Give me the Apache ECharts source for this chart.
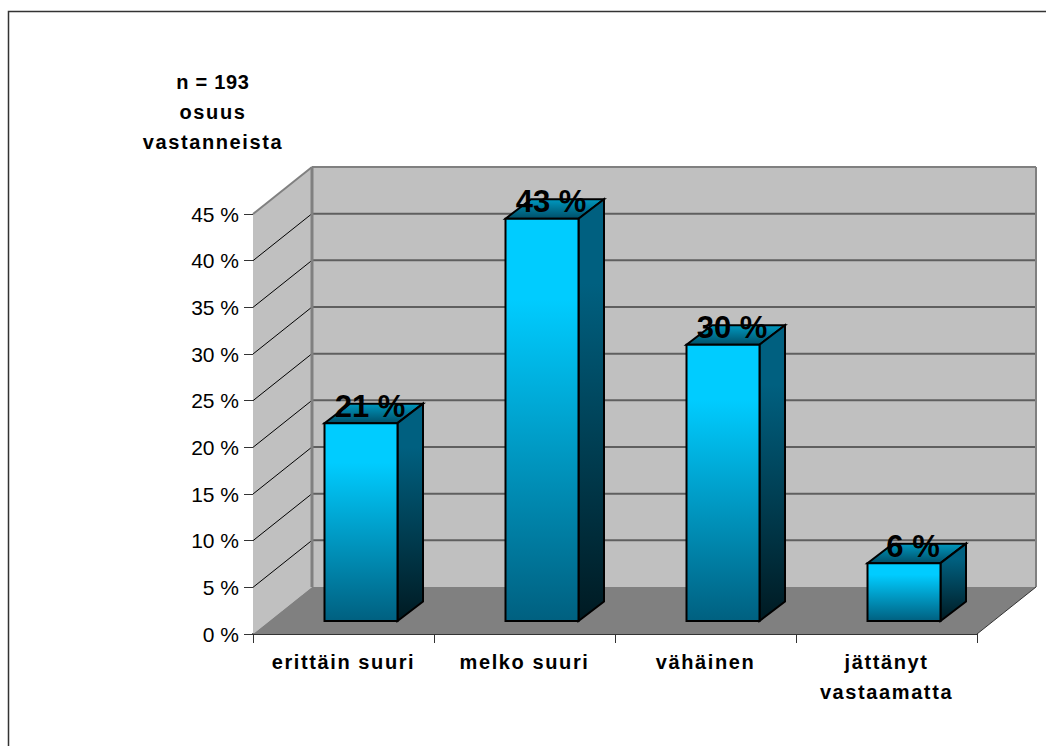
<!DOCTYPE html>
<html><head><meta charset="utf-8">
<style>
html,body{margin:0;padding:0;background:#fff}
#c{width:1046px;height:746px}
#c text.sp{letter-spacing:1.6px}
#c text.spn{letter-spacing:0.7px}
</style>
<script src="https://cdn.jsdelivr.net/npm/echarts@6/dist/echarts.min.js"></script>
</head><body><div id="c"></div>
<script>
const categories = ['erittäin suuri','melko suuri','vähäinen','jättänyt\nvastaamatta'];
const values = [21.2, 43.1, 29.6, 6.2];
const valueLabels = ['21 %','43 %','30 %','6 %'];
const yTicks = [0,5,10,15,20,25,30,35,40,45];
const headerLines = ['n = 193','osuus','vastanneista'];

const DX = 59, DY = -47;      // wall depth
const BDX = 25.5, BDY = -19.5;    // bar depth
const ZX = 17.5, ZY = -13;    // bar offset from front edge
const BW = 73;

const font = 'Liberation Sans, Arial, sans-serif';
const lg = (a,b,c,d,stops)=>new echarts.graphic.LinearGradient(a,b,c,d,stops.map(s=>({offset:s[0],color:s[1]})));

function wallItem(params, api){
  const cs = params.coordSys;
  const L = cs.x, R = cs.x + cs.width, T = cs.y, B = cs.y + cs.height;
  const ch = [];
  const poly = (pts, fill) => ({type:'polygon',shape:{points:pts},style:{fill:fill}});
  const line = (x1,y1,x2,y2,c,w) => ({type:'line',shape:{x1,y1,x2,y2},style:{stroke:c,lineWidth:w}});
  ch.push(poly([[L+DX,T+DY],[R+DX,T+DY],[R+DX,B+DY],[L+DX,B+DY]],'#c0c0c0'));
  ch.push(poly([[L,T],[L+DX,T+DY],[L+DX,B+DY],[L,B]],'#c0c0c0'));
  ch.push(poly([[L,B],[R,B],[R+DX,B+DY],[L+DX,B+DY]],'#808080'));
  yTicks.forEach(t=>{
    const y = api.coord([0,t])[1];
    if(t>0){ ch.push(line(L+DX,y+DY,R+DX,y+DY,'#5f5f5f',2)); }
    if(t>0 && t<45){ ch.push(line(L,y,L+DX,y+DY,'#000',1)); }
  });
  ch.push(line(L,T,L+DX,T+DY,'#808080',2));
  ch.push(line(L+DX,T+DY,R+DX,T+DY,'#808080',2));
  ch.push(line(L+DX,T+DY,L+DX,B+DY,'#808080',3));
  ch.push(line(R+DX,T+DY,R+DX,B+DY,'#808080',2));
  ch.push(line(R,B,R+DX,B+DY,'#333',1));
  return {type:'group',children:ch};
}
function barItem(params, api){
  const idx = api.value(0), v = api.value(1);
  const top = api.coord([idx,v]), base = api.coord([idx,0]);
  const x0 = base[0]+ZX-BW/2, x1 = x0+BW, yb = base[1]+ZY, yt = top[1]+ZY;
  const st = {stroke:'#000',lineWidth:2,lineJoin:'miter'};
  return {type:'group',children:[
    {type:'polygon',shape:{points:[[x0,yt],[x1,yt],[x1+BDX,yt+BDY],[x0+BDX,yt+BDY]]},
     style:Object.assign({fill:lg(0,0,0,1,[[0,'#0099c0'],[1,'#004f68']])},st)},
    {type:'polygon',shape:{points:[[x1,yt],[x1+BDX,yt+BDY],[x1+BDX,yb+BDY],[x1,yb]]},
     style:Object.assign({fill:lg(0,0,0,1,[[0,'#006080'],[0.2,'#006080'],[1,'#001a22']])},st)},
    {type:'rect',shape:{x:x0,y:yt,width:BW,height:yb-yt},
     style:Object.assign({fill:lg(0,0,0,1,[[0,'#00ccff'],[0.2,'#00ccff'],[1,'#006080']])},st)},
    {type:'text',x:x0+BW/2+9,y:yt-17,style:{text:valueLabels[idx],fill:'#000',
      font:'bold 31px '+font,align:'center',verticalAlign:'middle'}}
  ]};
}

const chart = echarts.init(document.getElementById('c'),null,{renderer:'svg'});
chart.setOption({
  animation:false,
  backgroundColor:'#fff',
  title:{text:headerLines.join('\n'),left:208,top:62,textAlign:'center',
    textStyle:{fontFamily:font,fontSize:20,fontWeight:'bold',color:'#000',lineHeight:30}},
  graphic:[{type:'polyline',silent:true,z:0,
    shape:{points:[[8.5,746],[8.5,11.5],[1046,11.5]]},
    style:{fill:null,stroke:'#333',lineWidth:1.5}}],
  grid:{left:253,top:214,width:724,height:420,containLabel:false},
  xAxis:{type:'category',data:categories,
    axisLine:{show:true,lineStyle:{color:'#333',width:2}},
    axisTick:{show:true,alignWithLabel:false,length:9,lineStyle:{color:'#333',width:1}},
    splitLine:{show:false},
    axisLabel:{interval:0,margin:13,fontFamily:font,fontSize:20,fontWeight:'bold',color:'#000',lineHeight:30}},
  yAxis:{type:'value',min:0,max:45,interval:5,
    axisLine:{show:true,lineStyle:{color:'#000',width:1}},
    axisTick:{show:true,length:9,lineStyle:{color:'#333',width:1}},
    splitLine:{show:false},
    axisLabel:{margin:14,fontFamily:font,fontSize:21,color:'#000',formatter:'{value} %'}},
  series:[
    {type:'custom',z:1,silent:true,renderItem:wallItem,data:[[0,0]],clip:false},
    {type:'custom',z:3,silent:true,renderItem:barItem,clip:false,
     data:values.map((v,i)=>[i,v])}
  ]
});
function spacing(){
  document.querySelectorAll('#c text').forEach(t=>{
    const s=(t.getAttribute('style')||'')+' '+(t.getAttribute('font-weight')||'');
    if(!/bold/.test(s) || /31px/.test(s)) return;
    t.setAttribute('class', t.textContent === headerLines[0] ? 'spn' : 'sp');
  });
}
spacing();
chart.on('finished',spacing);
</script></body></html>
